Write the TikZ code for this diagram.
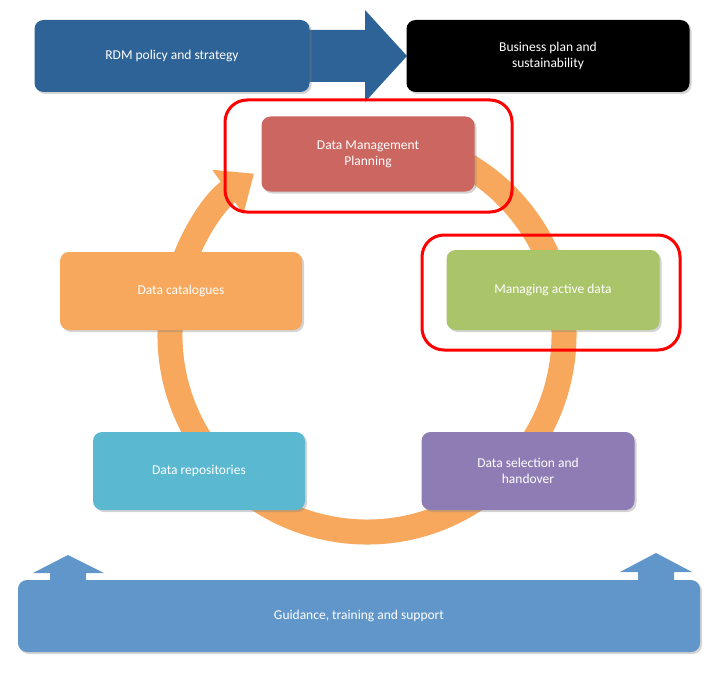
\documentclass[tikz,border=0pt]{standalone}
\usepackage{fontspec}
\setmainfont{Carlito}
\usetikzlibrary{arrows.meta,shadows}
\definecolor{rdm}{HTML}{2D6396}
\definecolor{dmp}{HTML}{CC6661}
\definecolor{mad}{HTML}{AAC46A}
\definecolor{cat}{HTML}{F7A85C}
\definecolor{rep}{HTML}{5BB8D1}
\definecolor{sel}{HTML}{8E7CB5}
\definecolor{gui}{HTML}{6096C9}
\definecolor{ring}{HTML}{F7A85C}
\tikzset{
  box/.style={rounded corners=9pt,text=white,align=center,inner sep=0pt,
    font=\fontsize{13.5}{16}\selectfont,drop shadow={shadow xshift=2pt,shadow yshift=-2pt,opacity=0.35}},
  hl/.style={draw=red,line width=3pt,rounded corners=22pt}
}
\begin{document}
\begin{tikzpicture}[x=1pt,y=1pt]
\useasboundingbox (0,0) rectangle (713,-677);
% ring
\draw[ring,line width=25pt,-{Triangle[width=52pt,length=32pt]}] (367,-335) ++(80:197) arc[start angle=80,end angle=-235,radius=197];
% top arrow
\fill[rdm] (300,-30) -- (365,-30) -- (365,-10) -- (407,-56) -- (365,-102) -- (365,-82) -- (300,-82) -- cycle;
% bottom arrows
\fill[gui] (50,-582) -- (50,-573) -- (33,-573) -- (68,-555) -- (104,-573) -- (86,-573) -- (86,-582) -- cycle;
\fill[gui] (638,-582) -- (638,-572) -- (620,-572) -- (656,-553) -- (692,-572) -- (674,-572) -- (674,-582) -- cycle;
% boxes
\node[box,fill=rdm,minimum width=275pt,minimum height=72pt] (rdm) at (172,-56) {RDM policy and strategy};
\node[box,fill=black,minimum width=283pt,minimum height=72pt] (bp) at (548,-56) {Business plan and\\sustainability};
\node[box,fill=dmp,minimum width=213pt,minimum height=75pt] (dmp) at (368,-154) {Data Management\\Planning};
\node[box,fill=mad,minimum width=213pt,minimum height=80pt] (mad) at (553,-290) {Managing active data};
\node[box,fill=cat,minimum width=242pt,minimum height=78pt] (cat) at (181,-291) {Data catalogues};
\node[box,fill=rep,minimum width=212pt,minimum height=78pt] (rep) at (199,-471) {Data repositories};
\node[box,fill=sel,minimum width=213pt,minimum height=78pt] (sel) at (528,-471) {Data selection and\\handover};
\node[box,fill=gui,minimum width=682pt,minimum height=72pt] (gui) at (359,-616) {Guidance, training and support};
% highlights
\draw[hl] (225,-100) rectangle (512,-212);
\draw[hl] (422,-235) rectangle (680,-350);
\end{tikzpicture}
\end{document}
